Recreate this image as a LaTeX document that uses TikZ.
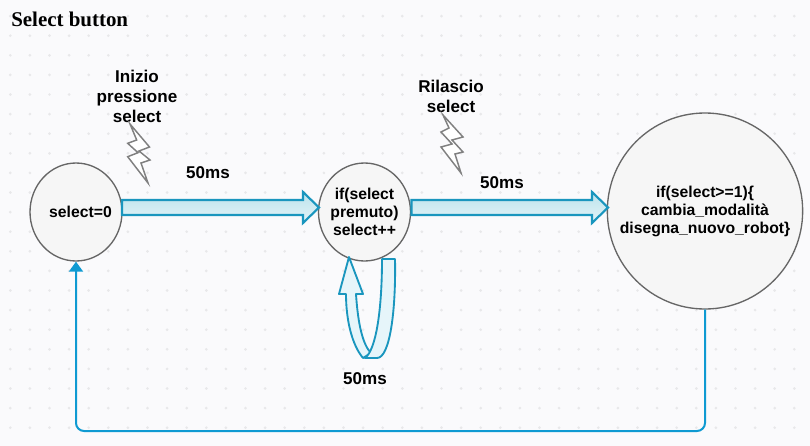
\documentclass[tikz,border=0pt]{standalone}
\usepackage{fontspec}
\setmainfont{Liberation Sans}
\newfontfamily\titlefont{Liberation Serif}
\usetikzlibrary{positioning,arrows.meta,calc,shapes.geometric}
\definecolor{pagebg}{HTML}{FAFAFC}
\definecolor{griddot}{HTML}{E8E8EA}
\definecolor{flowblue}{HTML}{1A96BE}
\definecolor{linkblue}{HTML}{0F9AD2}
\definecolor{flowtop}{HTML}{BCE3EC}
\definecolor{flowbot}{HTML}{E4F4F8}
\definecolor{loopfill}{HTML}{E6F5FA}
\tikzset{
    statecircle/.style={draw=black!60, line width=1pt, fill=black!3.5, ellipse, inner sep=-20pt, align=center, font=\bfseries\fontsize{11.8}{13.5}\selectfont},
    note/.style={align=center, font=\bfseries\fontsize{12.8}{15}\selectfont},
    flowarrow/.style={draw=flowblue, line width=1.6pt, line join=miter, top color=flowtop, bottom color=flowbot},
    loopband/.style={draw=flowblue, line width=1.4pt, line join=round, fill=loopfill},
    spark/.style={draw=black!50, line width=1.1pt, fill=white},
    backlink/.style={draw=linkblue, line width=1.5pt, rounded corners=6pt, -{Triangle[width=10.5pt,length=7.5pt]}}
}
\newcommand{\blockarrow}[2]{%
    \path[flowarrow] (#1) ++(0,-7.5) -- ($(#2)+(-16,-7.5)$) -- ($(#2)+(-16,-15.5)$) -- (#2)
        -- ($(#2)+(-16,15.5)$) -- ($(#2)+(-16,7.5)$) -- ($(#1)+(0,7.5)$) -- cycle;}
\begin{document}
\begin{tikzpicture}[x=0.75pt, y=-0.75pt]
    \useasboundingbox[fill=pagebg] (0,0) rectangle (810,446);
    % dotted page grid
    \foreach \i in {0,...,40}
        \foreach \j in {0,...,21}
            \fill[griddot] ({10.3+19.6*\i},{16.1+19.6*\j}) circle (1.1pt);

    \node[anchor=west, inner sep=0pt, font=\titlefont\bfseries\fontsize{15.7}{18}\selectfont] (title) at (11,19) {Select button};

    \node[statecircle, minimum width=69pt, minimum height=73.5pt] (idle) at (76,212) {\hspace{6.75pt}select=0};
    \node[statecircle, minimum width=69pt, minimum height=73.5pt] (press) at (364.5,212) {if(select\\premuto)\\select++};
    \node[statecircle, minimum width=146.5pt, minimum height=147pt] (action) at (705,211) {if(select>=1)\{\\cambia\_modalità\\disegna\_nuovo\_robot\}};

    \node[note] (inizio) at (137,96) {Inizio\\pressione\\select};
    \node[note] (rilascio) at (451,96) {Rilascio\\select};
    \node[note] (timeA) at (208,173) {50ms};
    \node[note] (timeB) at (502,183) {50ms};
    \node[note] (timeC) at (365,379) {50ms};

    % sparks under the two notes
    \draw[spark] (130,124) -- (149.5,147) -- (139,151) -- (150,160) -- (141,163) -- (148,183)
        -- (127.7,156.7) -- (138,152.7) -- (127.7,143.3) -- (136.7,140) -- cycle;
    \draw[spark] (443,115) -- (463,137) -- (452,140) -- (463,152) -- (455,154) -- (461,173)
        -- (441,147) -- (452,144) -- (441,132) -- (449,128) -- cycle;

    % block arrows
    \coordinate (flowA) at (122,207.5);
    \coordinate (flowAend) at (319,207.5);
    \coordinate (flowB) at (411.5,207.5);
    \coordinate (flowBend) at (608,207.5);
    \blockarrow{flowA}{flowAend}
    \blockarrow{flowB}{flowBend}

    % self loop on press
    \path[loopband] (349,257) -- (363,294) -- (356,294) .. controls (358,325) and (363,345) .. (371,353)
        -- (363,358) .. controls (352,345) and (346,320) .. (346,294) -- (339,294) -- cycle;
    \path[loopband] (382,259) -- (395,259) .. controls (396,310) and (390,358) .. (377,358)
        -- (365,358) .. controls (376,350) and (382,310) .. (382,259) -- cycle;

    % return line
    \coordinate (bottomrun) at (400,431);
    \draw[backlink] (action.south) |- (bottomrun) -| (idle.south);
\end{tikzpicture}
\end{document}
